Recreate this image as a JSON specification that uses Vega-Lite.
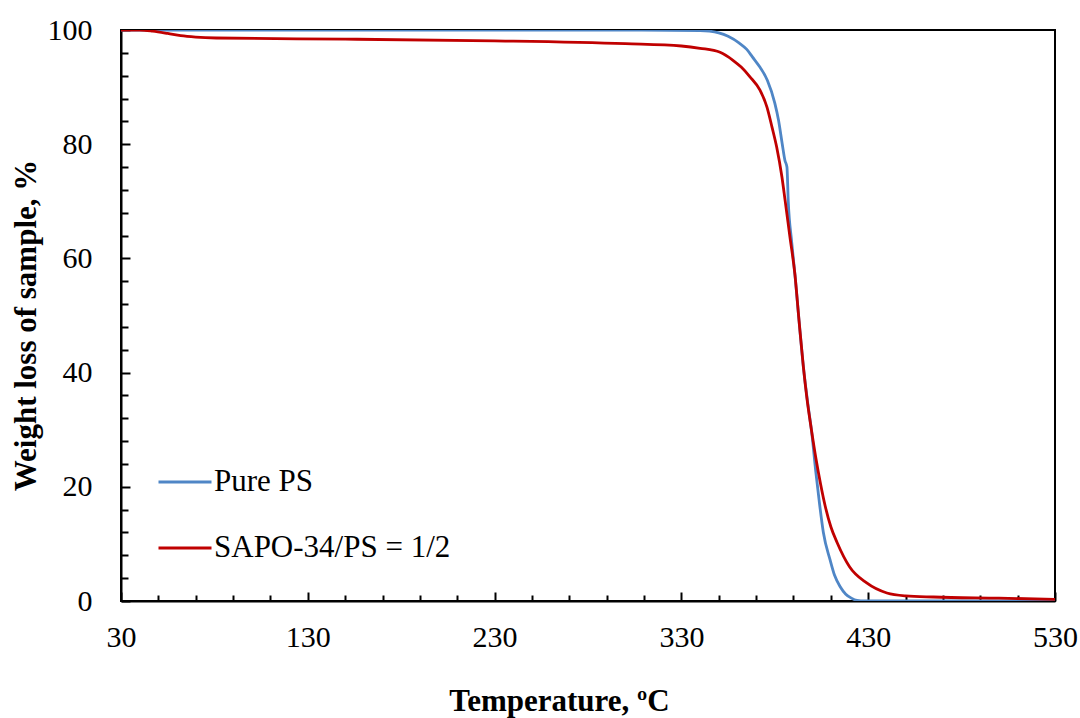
{
  "$schema": "https://vega.github.io/schema/vega-lite/v6.json",
  "width": 934,
  "height": 571,
  "autosize": "none",
  "padding": {"left": 121, "top": 30, "right": 25, "bottom": 117},
  "background": "white",
  "config": {
    "view": {"stroke": "black", "strokeWidth": 2},
    "font": "Times New Roman"
  },
  "datasets": {
    "tga": [
      {"s": "Pure PS", "T": 30, "W": 100},
      {"s": "Pure PS", "T": 100, "W": 100},
      {"s": "Pure PS", "T": 200, "W": 100},
      {"s": "Pure PS", "T": 300, "W": 100},
      {"s": "Pure PS", "T": 340, "W": 99.9},
      {"s": "Pure PS", "T": 345, "W": 99.8},
      {"s": "Pure PS", "T": 350, "W": 99.5},
      {"s": "Pure PS", "T": 355, "W": 98.9},
      {"s": "Pure PS", "T": 361, "W": 97.7},
      {"s": "Pure PS", "T": 365, "W": 96.6},
      {"s": "Pure PS", "T": 368, "W": 95.3},
      {"s": "Pure PS", "T": 372, "W": 93.5},
      {"s": "Pure PS", "T": 376, "W": 91.2},
      {"s": "Pure PS", "T": 380, "W": 87.2},
      {"s": "Pure PS", "T": 382, "W": 84.2},
      {"s": "Pure PS", "T": 384, "W": 80},
      {"s": "Pure PS", "T": 385.4, "W": 77.2},
      {"s": "Pure PS", "T": 386.5, "W": 76},
      {"s": "Pure PS", "T": 387.2, "W": 70},
      {"s": "Pure PS", "T": 389, "W": 63},
      {"s": "Pure PS", "T": 390.8, "W": 57.1},
      {"s": "Pure PS", "T": 393, "W": 49},
      {"s": "Pure PS", "T": 395.3, "W": 41},
      {"s": "Pure PS", "T": 397.5, "W": 35},
      {"s": "Pure PS", "T": 399.8, "W": 29.4},
      {"s": "Pure PS", "T": 402, "W": 22.5},
      {"s": "Pure PS", "T": 403.7, "W": 17.7},
      {"s": "Pure PS", "T": 406, "W": 12},
      {"s": "Pure PS", "T": 409.6, "W": 7.2},
      {"s": "Pure PS", "T": 412, "W": 4.5},
      {"s": "Pure PS", "T": 415, "W": 2.5},
      {"s": "Pure PS", "T": 418, "W": 1.2},
      {"s": "Pure PS", "T": 421, "W": 0.5},
      {"s": "Pure PS", "T": 424, "W": 0.1},
      {"s": "Pure PS", "T": 428, "W": 0},
      {"s": "Pure PS", "T": 480, "W": 0},
      {"s": "Pure PS", "T": 530, "W": 0},
      {"s": "SAPO-34/PS = 1/2", "T": 30, "W": 100},
      {"s": "SAPO-34/PS = 1/2", "T": 40, "W": 100},
      {"s": "SAPO-34/PS = 1/2", "T": 47, "W": 99.8},
      {"s": "SAPO-34/PS = 1/2", "T": 55, "W": 99.4},
      {"s": "SAPO-34/PS = 1/2", "T": 62, "W": 99},
      {"s": "SAPO-34/PS = 1/2", "T": 70, "W": 98.75},
      {"s": "SAPO-34/PS = 1/2", "T": 81, "W": 98.6},
      {"s": "SAPO-34/PS = 1/2", "T": 150, "W": 98.4},
      {"s": "SAPO-34/PS = 1/2", "T": 230, "W": 98.1},
      {"s": "SAPO-34/PS = 1/2", "T": 300, "W": 97.6},
      {"s": "SAPO-34/PS = 1/2", "T": 330, "W": 97.2},
      {"s": "SAPO-34/PS = 1/2", "T": 340, "W": 96.8},
      {"s": "SAPO-34/PS = 1/2", "T": 350.7, "W": 96.1},
      {"s": "SAPO-34/PS = 1/2", "T": 357.6, "W": 94.7},
      {"s": "SAPO-34/PS = 1/2", "T": 362, "W": 93.5},
      {"s": "SAPO-34/PS = 1/2", "T": 366.7, "W": 91.8},
      {"s": "SAPO-34/PS = 1/2", "T": 372, "W": 89.5},
      {"s": "SAPO-34/PS = 1/2", "T": 375.8, "W": 86.5},
      {"s": "SAPO-34/PS = 1/2", "T": 378.5, "W": 83},
      {"s": "SAPO-34/PS = 1/2", "T": 381, "W": 79.5},
      {"s": "SAPO-34/PS = 1/2", "T": 383.8, "W": 74.3},
      {"s": "SAPO-34/PS = 1/2", "T": 385.5, "W": 70.2},
      {"s": "SAPO-34/PS = 1/2", "T": 388, "W": 64},
      {"s": "SAPO-34/PS = 1/2", "T": 390.8, "W": 57.1},
      {"s": "SAPO-34/PS = 1/2", "T": 393, "W": 49},
      {"s": "SAPO-34/PS = 1/2", "T": 395.3, "W": 41},
      {"s": "SAPO-34/PS = 1/2", "T": 397.2, "W": 35.5},
      {"s": "SAPO-34/PS = 1/2", "T": 399.6, "W": 30},
      {"s": "SAPO-34/PS = 1/2", "T": 402, "W": 25},
      {"s": "SAPO-34/PS = 1/2", "T": 404.5, "W": 20.5},
      {"s": "SAPO-34/PS = 1/2", "T": 407, "W": 16.6},
      {"s": "SAPO-34/PS = 1/2", "T": 410, "W": 13},
      {"s": "SAPO-34/PS = 1/2", "T": 413.4, "W": 10.2},
      {"s": "SAPO-34/PS = 1/2", "T": 420, "W": 6},
      {"s": "SAPO-34/PS = 1/2", "T": 429, "W": 3.2},
      {"s": "SAPO-34/PS = 1/2", "T": 440, "W": 1.4},
      {"s": "SAPO-34/PS = 1/2", "T": 450, "W": 0.9},
      {"s": "SAPO-34/PS = 1/2", "T": 465, "W": 0.7},
      {"s": "SAPO-34/PS = 1/2", "T": 500, "W": 0.5},
      {"s": "SAPO-34/PS = 1/2", "T": 530, "W": 0.3}
    ]
  },
  "data": {"name": "tga"},
  "mark": {"type": "line", "strokeWidth": 2.8, "interpolate": "monotone", "clip": true},
  "encoding": {
    "x": {
      "field": "T",
      "type": "quantitative",
      "scale": {"domain": [30, 530], "nice": false, "zero": false},
      "axis": {
        "title": "Temperature, ºC",
        "values": [30, 50, 70, 90, 110, 130, 150, 170, 190, 210, 230, 250, 270, 290, 310, 330, 350, 370, 390, 410, 430, 450, 470, 490, 510, 530],
        "labelExpr": "datum.value % 100 === 30 ? datum.label : ''",
        "grid": false,
        "domainColor": "black",
        "domainWidth": 2,
        "tickColor": "black",
        "tickWidth": 2,
        "tickSize": {"condition": {"test": "datum.value % 100 === 30", "value": -9}, "value": -6},
        "labelFontSize": 30,
        "labelColor": "black",
        "labelPadding": 30,
        "labelFont": "Times New Roman",
        "labelFlush": false,
        "labelOverlap": false,
        "titleFont": "Times New Roman",
        "titleFontSize": 31,
        "titleFontWeight": "bold",
        "titleColor": "black",
        "titlePadding": 31,
        "titleX": 438
      }
    },
    "y": {
      "field": "W",
      "type": "quantitative",
      "scale": {"domain": [0, 100], "nice": false},
      "axis": {
        "title": "Weight loss of sample, %",
        "values": [0, 4, 8, 12, 16, 20, 24, 28, 32, 36, 40, 44, 48, 52, 56, 60, 64, 68, 72, 76, 80, 84, 88, 92, 96, 100],
        "labelExpr": "datum.value % 20 === 0 ? datum.label : ''",
        "grid": false,
        "domainColor": "black",
        "domainWidth": 2,
        "tickColor": "black",
        "tickWidth": 2,
        "tickSize": {"condition": {"test": "datum.value % 20 === 0", "value": -9}, "value": -7},
        "labelFontSize": 30,
        "labelColor": "black",
        "labelPadding": 38,
        "labelFont": "Times New Roman",
        "labelFlush": false,
        "labelOverlap": false,
        "titleFont": "Times New Roman",
        "titleFontSize": 31,
        "titleFontWeight": "bold",
        "titleColor": "black",
        "titlePadding": 5,
        "titleY": 295
      }
    },
    "color": {
      "field": "s",
      "type": "nominal",
      "scale": {"domain": ["Pure PS", "SAPO-34/PS = 1/2"], "range": ["#4F86C6", "#C00000"]},
      "legend": {
        "title": null,
        "orient": "none",
        "legendX": 36,
        "legendY": 424,
        "padding": 0,
        "symbolType": "stroke",
        "symbolSize": 2809,
        "symbolStrokeWidth": 2.8,
        "labelFont": "Times New Roman",
        "labelFontSize": 31,
        "labelColor": "black",
        "labelOffset": 1,
        "rowPadding": 23,
        "labelLimit": 500
      }
    }
  }
}
